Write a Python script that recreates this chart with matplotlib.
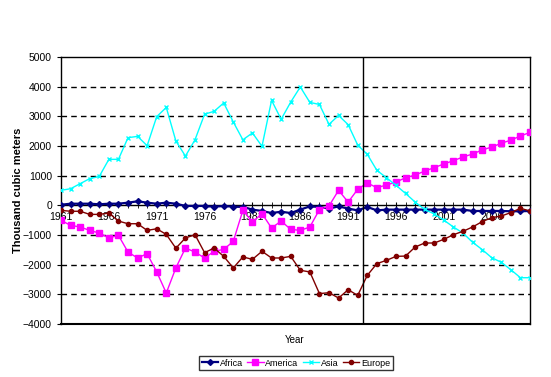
import numpy as np
import matplotlib.pyplot as plt

plt.rcParams['font.family'] = ['Liberation Sans', 'DejaVu Sans']

# data (thousand cubic meters)
years = np.arange(1961, 2011)

africa = [20, 55, 55, 55, 35, 55, 55, 90, 135, 90, 55, 90, 55, -20, -20, -20, -50, -20, -50, -50,
          -145, -190, -260, -215, -260, -145, -35, -55, -110, -35, -110, -170, -55, -170, -145, -145,
          -145, -145, -145, -145, -145, -145, -145, -190, -190, -190, -190, -200, -200, -190]

america = [-505, -675, -730, -845, -935, -1100, -1010, -1575, -1775, -1630, -2245, -2955, -2110,
           -1440, -1575, -1775, -1550, -1485, -1215, -170, -560, -280, -765, -530, -810, -845, -730,
           -145, -20, 505, 110, 540, 755, 595, 685, 785, 930, 1020, 1155, 1270, 1395, 1505, 1630,
           1730, 1865, 1965, 2090, 2200, 2335, 2460]

asia = [505, 560, 730, 900, 975, 1550, 1550, 2280, 2325, 2010, 2990, 3300, 2170, 1660, 2210,
        3070, 3170, 3450, 2810, 2210, 2440, 1990, 3540, 2900, 3480, 3990, 3470, 3400, 2730, 3030,
        2720, 2030, 1720, 1180, 930, 675, 400, 110, -140, -290, -500, -730, -935, -1245, -1490,
        -1765, -1920, -2170, -2440, -2440]

europe = [-170, -200, -200, -305, -305, -260, -530, -620, -620, -845, -790, -980, -1445, -1100,
          -990, -1595, -1440, -1720, -2110, -1740, -1820, -1550, -1775, -1775, -1720, -2190, -2245,
          -2975, -2945, -3125, -2845, -3035, -2360, -1965, -1855, -1720, -1710, -1405, -1270, -1270,
          -1145, -990, -875, -730, -550, -415, -360, -245, -100, -190]

series = [
    ('Africa', africa, '#000080', 'D', 3, 1.6),
    ('America', america, '#FF00FF', 's', 4, 1.0),
    ('Asia', asia, '#00FFFF', 'x', 3, 1.0),
    ('Europe', europe, '#800000', 'o', 3, 1.0),
]

fig = plt.figure(figsize=(5.51, 3.77), dpi=100)
ax = fig.add_axes([61 / 551, 1 - 324 / 377, 469 / 551, 267 / 377])

for name, vals, col, mk, ms, lw in series:
    ax.plot(years, vals, color=col, marker=mk, markersize=ms, lw=lw,
            markeredgewidth=1, label=name, zorder=3)

ax.set_xlim(years[0], years[-1])
ax.set_ylim(-4000, 5000)
ax.set_yticks(np.arange(-4000, 5001, 1000))
ax.set_xticks(years[::5])
ax.set_xticks(years, minor=True)

# dashed gridlines
for yv in np.arange(-3000, 5000, 1000):
    if yv != 0:
        ax.axhline(yv, color='black', ls=(0, (4, 3)), lw=1, zorder=1)

# x axis crosses at zero
ax.spines['bottom'].set_position(('data', 0))
ax.spines['bottom'].set_zorder(2)
for s in ax.spines.values():
    s.set_linewidth(1)
ax.axhline(-4000, color='black', lw=1.5, clip_on=False)
ax.axvline(1992.6, color='black', lw=1, zorder=4)

ax.tick_params(axis='x', which='both', direction='inout', length=4, labelsize=7.5, pad=3)
ax.tick_params(axis='y', direction='out', length=3, labelsize=7.5)

ax.set_ylabel('Thousand cubic meters', fontsize=8, fontweight='bold', labelpad=0)
fig.text(295 / 551, 1 - 340 / 377, 'Year', ha='center', va='center', fontsize=7)

leg = fig.legend(loc='center', bbox_to_anchor=(296 / 551, 1 - 363 / 377), ncol=4,
                 fontsize=6.5, frameon=True, fancybox=False, handlelength=1.8,
                 handletextpad=0.2, columnspacing=0.5, borderpad=0.25,
                 borderaxespad=0)
leg.get_frame().set_edgecolor('black')
leg.get_frame().set_linewidth(1)

fig.savefig('out.png', dpi=100)
